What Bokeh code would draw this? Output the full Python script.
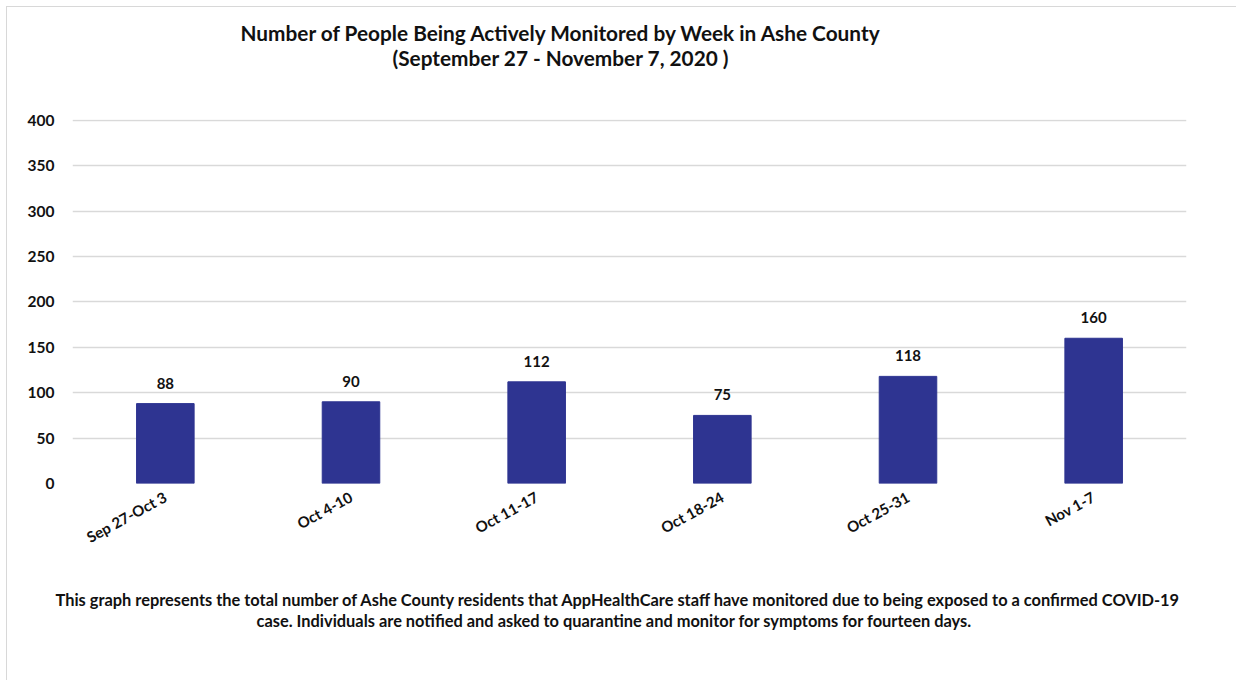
from bokeh.plotting import figure
from bokeh.models import ColumnDataSource, FixedTicker, Title, Range1d
from bokeh.core.properties import value
from bokeh.embed import file_html
from bokeh.resources import INLINE

weeks = ["Sep 27-Oct 3", "Oct 4-10", "Oct 11-17", "Oct 18-24", "Oct 25-31", "Nov 1-7"]
monitored = [88, 90, 112, 75, 118, 160]
y_ticks = [0, 50, 100, 150, 200, 250, 300, 350, 400]

title_lines = ["Number of People Being Actively Monitored by Week in Ashe County",
               "(September 27 - November 7, 2020 )"]
caption_lines = ["This graph represents the total number of Ashe County residents that AppHealthCare staff have monitored due to being exposed to a confirmed COVID-19",
                 "case. Individuals are notified and asked to quarantine and monitor for symptoms for fourteen days."]

FONT = "Lato"
BAR = "#2E3491"
GRID = "#D9D9D9"
INK = "#111111"

src = ColumnDataSource(dict(week=weeks, n=monitored, lbl=[str(v) for v in monitored]))

p = figure(x_range=weeks, y_range=Range1d(0, 401), width=1236, height=680,
           output_backend="svg", toolbar_location=None,
           min_border_left=72, min_border_right=50, min_border_top=119, min_border_bottom=197)
p.border_fill_color = None
p.background_fill_color = None
p.styles = {
    "background": "linear-gradient(#d8d8d8,#d8d8d8) 6px 6px / 1px 100% no-repeat, "
                  "linear-gradient(#d8d8d8,#d8d8d8) 6px 6px / 100% 1px no-repeat, #ffffff"
}
p.outline_line_color = None
p.vbar(x="week", top="n", width=0.31, source=src, fill_color=BAR, line_color=BAR)
p.text(x="week", y="n", text="lbl", source=src, text_align="center", text_baseline="bottom",
       y_offset=-15, text_font=value(FONT), text_font_style="bold", text_font_size="15px",
       text_color=INK)

p.xgrid.grid_line_color = None
p.ygrid.grid_line_color = GRID
p.ygrid.grid_line_width = 1.5
p.yaxis.ticker = FixedTicker(ticks=y_ticks)
for ax in (p.xaxis, p.yaxis):
    ax.axis_line_color = None
    ax.major_tick_line_color = None
    ax.minor_tick_line_color = None
    ax.major_label_text_font = FONT
    ax.major_label_text_font_style = "bold"
    ax.major_label_text_color = INK
p.yaxis.major_label_text_font_size = "15.5px"
p.xaxis.major_label_text_font_size = "15px"
p.yaxis.major_label_standoff = 12
p.xaxis.major_label_standoff = 6
p.xaxis.major_label_orientation = 0.5

def title(text, size, offset, standoff):
    return Title(text=text, align="left", offset=offset, standoff=standoff,
                 text_font=FONT, text_font_style="bold", text_font_size=size,
                 text_color=INK)

# heading: spacer nearest the frame, then line 2, then line 1 (farther out)
p.add_layout(Title(text=" ", text_font_size="18px", standoff=28), "above")
p.add_layout(title(title_lines[1], "20.8px", 320, -1), "above")
p.add_layout(title(title_lines[0], "20.8px", 168, -3), "above")
# caption below the axis: spacer, line 1, line 2
p.add_layout(Title(text=" ", text_font_size="14px", standoff=13), "below")
p.add_layout(title(caption_lines[0], "16.4px", -17, 1), "below")
p.add_layout(title(caption_lines[1], "16.4px", 184, -1), "below")

open("out.html", "w").write(file_html(p, INLINE))
